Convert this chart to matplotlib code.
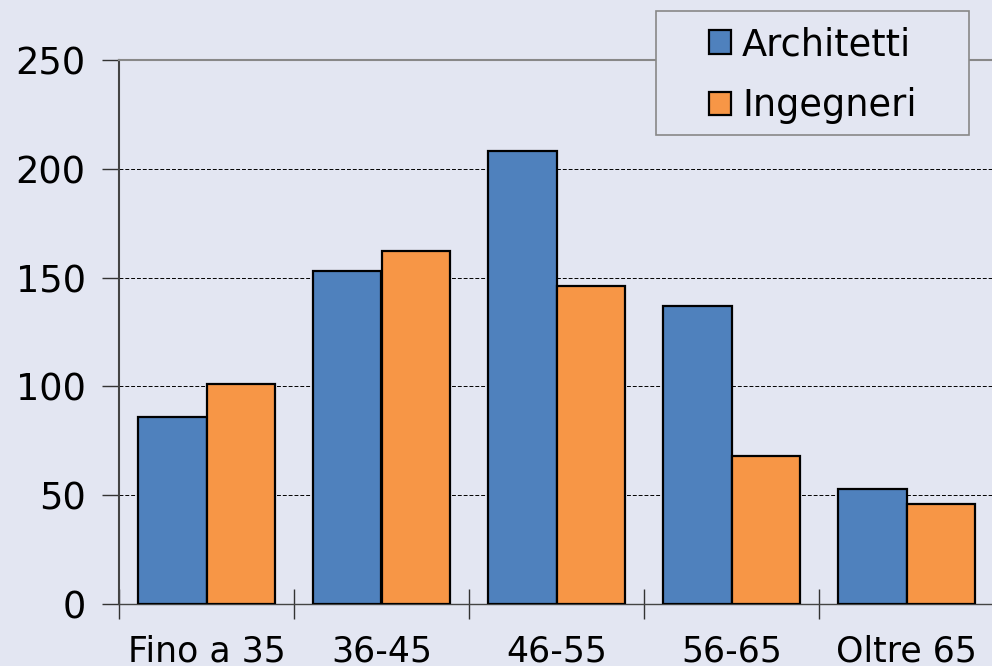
import matplotlib.pyplot as plt
from matplotlib.patches import Rectangle
import numpy as np

categories = ['Fino a 35', '36-45', '46-55', '56-65', 'Oltre 65']
architetti = [86, 153, 208, 137, 53]
ingegneri = [101, 162, 146, 68, 46]

bg = '#E3E6F2'
plt.rcParams['font.family'] = 'DejaVu Sans'

fig = plt.figure(figsize=(9.92, 6.66), dpi=100, facecolor=bg)
ax = fig.add_axes([119 / 992, 62 / 666, 875 / 992, 544 / 666])
ax.set_facecolor(bg)

x = np.arange(len(categories))
w = 0.394
ax.bar(x - w / 2, architetti, w, color='#4F81BD', edgecolor='black', linewidth=1.6,
       label='Architetti', zorder=3)
ax.bar(x + w / 2, ingegneri, w, color='#F79646', edgecolor='black', linewidth=1.6,
       label='Ingegneri', zorder=3)

ax.set_xlim(-0.5, len(categories) - 0.5)
ax.set_ylim(0, 250)
ax.set_yticks(range(0, 251, 50))
ax.set_xticks(x)
ax.set_xticklabels(categories)
ax.set_xticks(np.arange(-0.5, len(categories), 1), minor=True)
ax.tick_params(axis='x', which='major', length=0, pad=22, labelsize=25)
ax.tick_params(axis='x', which='minor', direction='inout', length=22, width=1, color='#333333')
ax.tick_params(axis='y', direction='out', length=12, width=1, color='#333333', labelsize=26.5, pad=12)

ax.yaxis.grid(True, linestyle=(0, (4, 2)), color='black', linewidth=0.7, zorder=0)

ax.spines['right'].set_visible(False)
ax.spines['top'].set_color('#888888')
ax.spines['top'].set_linewidth(1.5)
ax.spines['left'].set_color('#444444')
ax.spines['left'].set_linewidth(1.5)
ax.spines['bottom'].set_color('#444444')
ax.spines['bottom'].set_linewidth(1)

# legend box drawn by hand (wide side padding as in the original)
box = Rectangle((656 / 992, 1 - 135 / 666), (969 - 656) / 992, 124 / 666,
                transform=fig.transFigure, facecolor=bg, edgecolor='#888888',
                linewidth=1.2, zorder=5)
fig.patches.append(box)

handles, labels = ax.get_legend_handles_labels()
leg = fig.legend(handles, labels, loc='upper left', bbox_to_anchor=(709 / 992, 1 - 26 / 666),
                 fontsize=26.5, frameon=False, handlelength=0.6, handleheight=0.6,
                 handletextpad=0.3, borderpad=0, labelspacing=0.66, borderaxespad=0)
leg.set_zorder(6)

fig.savefig('out.png', dpi=100, facecolor=bg)
